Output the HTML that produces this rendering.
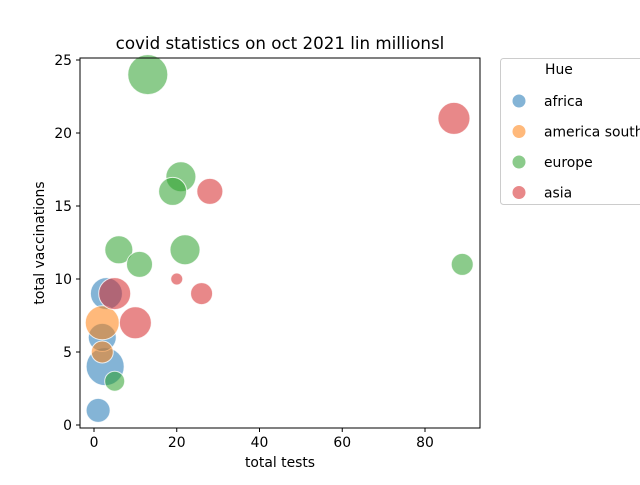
<!DOCTYPE html>
<html><head><meta charset="utf-8"><style>
body{margin:0;background:#fff;font-family:"Liberation Sans","DejaVu Sans",sans-serif}
svg text{font-family:"DejaVu Sans","Liberation Sans",sans-serif;fill:#000}
</style></head><body>
<svg id="c" width="640" height="480" viewBox="0 0 640 480">
<text x="280" y="49" font-size="16.7" text-anchor="middle">covid statistics on oct 2021 lin millionsl</text>
<g id="pts"></g>
<rect x="80" y="58" width="400" height="370" fill="none" stroke="#000" stroke-width="1"/>
<g id="ax"></g>
<text x="280" y="467" font-size="13.9" text-anchor="middle">total tests</text>
<text transform="translate(44,243) rotate(-90)" font-size="13.9" text-anchor="middle">total vaccinations</text>
<g>
<rect x="500.5" y="58.5" width="145" height="146" rx="3" fill="#fff" stroke="#ccc"/>
<text x="545" y="74" font-size="13.9">Hue</text>
<g id="leg"></g>
</g>
</svg>
<script>
const categories=["africa","america south","europe","asia"];
const colors=["#1f77b4","#ff7f0e","#2ca02c","#d62728"];
const tests=[1,2.7,2,3, 2,2, 13,21,19,6,22,11,5,89, 87,28,20,26,5,10];
const vaccs=[1,4,6,9, 7,5, 24,17,16,12,12,11,3,11, 21,16,10,9,9,7];
const sizes=[12,19,14,16, 17,11, 20,15,14,14,15,13,10,11, 16,13,6,11,16,16];
const group=[0,0,0,0, 1,1, 2,2,2,2,2,2,2,2, 3,3,3,3,3,3];
const xTicks=[0,20,40,60,80];
const yTicks=[0,5,10,15,20,25];
const sx=v=>94+v*(425-94)/80;
const sy=v=>425-v*(425-60)/25;
const NS="http://www.w3.org/2000/svg";
const pts=document.getElementById('pts');
for(let i=0;i<tests.length;i++){
  const c=document.createElementNS(NS,'circle');
  c.setAttribute('cx',sx(tests[i]));c.setAttribute('cy',sy(vaccs[i]));c.setAttribute('r',sizes[i]);
  c.setAttribute('fill',colors[group[i]]);c.setAttribute('fill-opacity',0.55);
  c.setAttribute('stroke','#fff');c.setAttribute('stroke-opacity',0.8);
  
  
  pts.appendChild(c);
}
const ax=document.getElementById('ax');
xTicks.forEach(t=>{
  const x=sx(t);
  const l=document.createElementNS(NS,'line');
  l.setAttribute('x1',x);l.setAttribute('x2',x);l.setAttribute('y1',428);l.setAttribute('y2',432);l.setAttribute('stroke','#000');
  
  
  ax.appendChild(l);
  const tx=document.createElementNS(NS,'text');
  tx.setAttribute('x',x);tx.setAttribute('y',447);tx.setAttribute('font-size',13.9);tx.setAttribute('text-anchor','middle');tx.textContent=t;
  
  
  ax.appendChild(tx);
});
yTicks.forEach(t=>{
  const y=sy(t);
  const l=document.createElementNS(NS,'line');
  l.setAttribute('x1',76);l.setAttribute('x2',80);l.setAttribute('y1',y);l.setAttribute('y2',y);l.setAttribute('stroke','#000');
  
  
  ax.appendChild(l);
  const tx=document.createElementNS(NS,'text');
  tx.setAttribute('x',72);tx.setAttribute('y',y+5);tx.setAttribute('font-size',13.9);tx.setAttribute('text-anchor','end');tx.textContent=t;
  
  
  ax.appendChild(tx);
});
const leg=document.getElementById('leg');
categories.forEach((c,i)=>{
  const y=101+i*30.5;
  const m=document.createElementNS(NS,'circle');
  m.setAttribute('cx',519);m.setAttribute('cy',y);m.setAttribute('r',7);m.setAttribute('fill',colors[i]);m.setAttribute('fill-opacity',0.55);m.setAttribute('stroke','#fff');
  
  
  leg.appendChild(m);
  const tx=document.createElementNS(NS,'text');
  tx.setAttribute('x',544);tx.setAttribute('y',y+5);tx.setAttribute('font-size',13.9);tx.textContent=c;
  
  
  leg.appendChild(tx);
});
</script>
</body></html>
